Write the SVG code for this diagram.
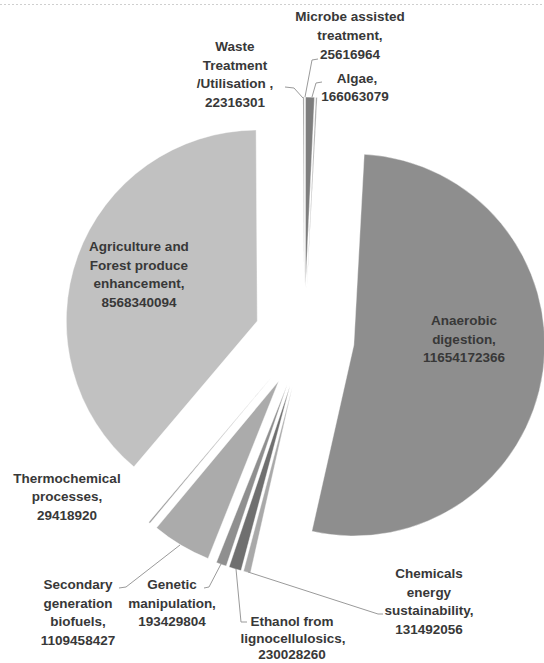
<svg xmlns="http://www.w3.org/2000/svg" width="544" height="663" viewBox="0 0 544 663">
<style>
text{font-family:"Liberation Sans",Arial,sans-serif;font-weight:bold;font-size:13.5px;fill:#383838;text-anchor:middle}
.lead{fill:none;stroke:#9a9a9a;stroke-width:1}
.sl{stroke:#ffffff;stroke-width:0.4}
</style>
<rect width="544" height="663" fill="#ffffff"/>
<line x1="0" y1="4.5" x2="544" y2="4.5" stroke="#cfcfcf" stroke-width="1" stroke-dasharray="2,2"/>
<g id="algae">
<path class="sl" fill="#7e7e7e" d="M305.48,288.11 L305.48,97.11 A191,191 0 0,1 314.48,97.33 Z"/>
<text x="357" y="83">Algae,</text>
<text x="355" y="101">166063079</text>
</g>
<g id="microbe">
<path class="sl" fill="#9a9a9a" d="M306.84,288.16 L315.84,97.38 A191,191 0 0,1 317.23,97.45 Z"/>
<text x="350" y="21">Microbe assisted</text>
<text x="350" y="40">treatment,</text>
<text x="350" y="59">25616964</text>
</g>
<g id="anaerobic">
<path class="sl" fill="#8e8e8e" d="M353.83,344.98 L364.21,154.26 A191,191 0 1,1 311.84,531.31 Z"/>
<text x="464" y="325">Anaerobic</text>
<text x="464" y="344">digestion,</text>
<text x="464" y="362">11654172366</text>
</g>
<g id="chemicals">
<path class="sl" fill="#a9a9a9" d="M292.40,386.66 L250.42,572.99 A191,191 0 0,1 243.49,571.30 Z"/>
<text x="429" y="578">Chemicals</text>
<text x="429" y="597">energy</text>
<text x="429" y="615">sustainability,</text>
<text x="429" y="634">131492056</text>
</g>
<g id="ethanol">
<path class="sl" fill="#6f6f6f" d="M289.93,385.99 L241.02,570.62 A191,191 0 0,1 229.07,567.04 Z"/>
<text x="292" y="626">Ethanol from</text>
<text x="293" y="643">lignocellulosics,</text>
<text x="292" y="659">230028260</text>
</g>
<g id="genetic">
<path class="sl" fill="#8f8f8f" d="M287.07,385.04 L226.22,566.09 A191,191 0 0,1 216.38,562.47 Z"/>
<text x="172" y="589">Genetic</text>
<text x="172" y="608">manipulation,</text>
<text x="172" y="626">193429804</text>
</g>
<g id="secondary">
<path class="sl" fill="#ababab" d="M278.74,381.07 L208.04,558.50 A191,191 0 0,1 156.54,527.87 Z"/>
<text x="78" y="589">Secondary</text>
<text x="78" y="608">generation</text>
<text x="78" y="626">biofuels,</text>
<text x="78" y="645">1109458427</text>
</g>
<g id="thermochemical">
<path class="sl" fill="#9c9c9c" d="M272.16,376.40 L149.96,523.19 A191,191 0 0,1 148.76,522.18 Z"/>
<text x="67" y="483">Thermochemical</text>
<text x="67" y="501">processes,</text>
<text x="67" y="520">29418920</text>
</g>
<g id="agriculture">
<path class="sl" fill="#c1c1c1" d="M257.30,321.04 L133.90,466.83 A191,191 0 0,1 256.08,130.05 Z"/>
<text x="139" y="251">Agriculture and</text>
<text x="139" y="269.5">Forest produce</text>
<text x="139" y="288">enhancement,</text>
<text x="139" y="306.5">8568340094</text>
</g>
<g id="waste">
<path class="sl" fill="#8a8a8a" d="M304.14,288.10 L302.92,97.10 A191,191 0 0,1 304.14,97.10 Z"/>
<text x="235" y="51">Waste</text>
<text x="235" y="70">Treatment</text>
<text x="235" y="88">/Utilisation ,</text>
<text x="235" y="107">22316301</text>
</g>
<g id="connectors">
<polyline class="lead" points="285,87 294,88 303,98"/>
<polyline class="lead" points="318,59 312,60 305,97"/>
<polyline class="lead" points="322,82 316,83 312,97"/>
<polyline class="lead" points="119,588 126,587 180,545"/>
<polyline class="lead" points="204,588 209,587 221,564"/>
<polyline class="lead" points="236,569 241,622 247,622"/>
<polyline class="lead" points="248,572 378,614 383,614"/>
</g>
</svg>
